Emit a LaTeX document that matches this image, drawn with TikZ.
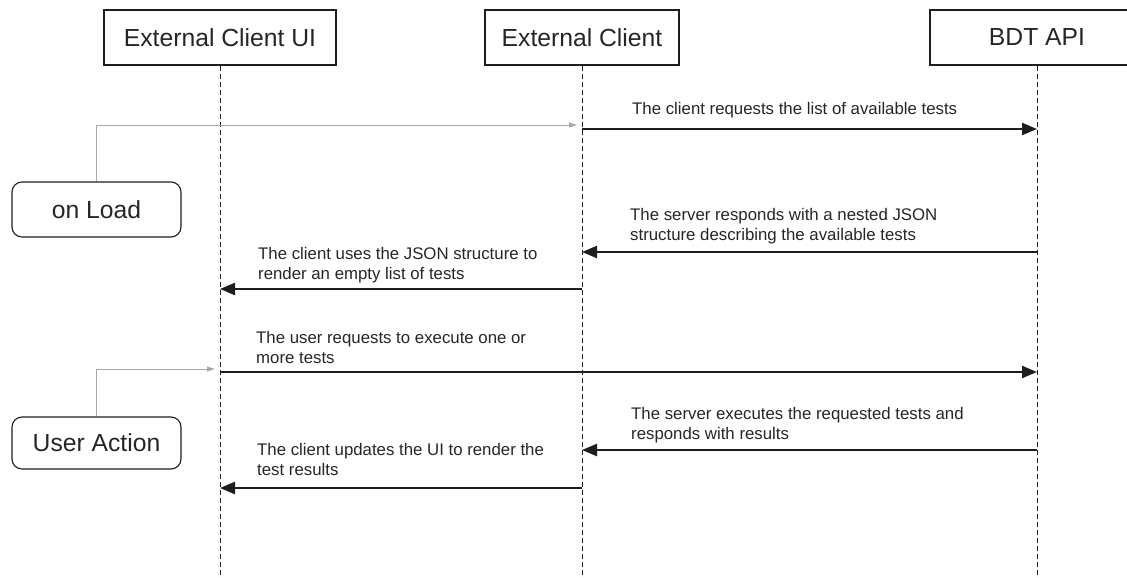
\documentclass[tikz,border=0pt]{standalone}
\usepackage{fontspec}
\setmainfont{Liberation Sans}
\usetikzlibrary{arrows.meta}

\definecolor{inkc}{HTML}{1E1E1E}
\definecolor{textc}{HTML}{262626}
\definecolor{cuec}{HTML}{A8A8A8}

\newcommand{\headfont}{\fontsize{24.7}{29}\selectfont}
\newcommand{\msgfont}{\fontsize{16.8}{20}\selectfont}

\tikzset{
  actor/.style={draw=inkc,line width=1.1pt,minimum height=55pt,inner sep=0pt,font=\headfont,text=textc},
  trigger/.style={actor,rounded corners=10pt,minimum width=169pt},
  lifeline/.style={draw=inkc,line width=0.9pt,dash pattern=on 5pt off 3pt},
  msg/.style={draw=inkc,line width=2.2pt,-{Triangle[length=15pt,width=12pt]}},
  cue/.style={draw=cuec,line width=1pt,-{Triangle[length=8pt,width=5pt]},shorten >=5pt},
  note/.style={anchor=west,align=left,inner sep=0pt,font=\msgfont,text=textc}
}

\begin{document}
\begin{tikzpicture}[x=1pt,y=-1pt]
    \useasboundingbox (0,0) rectangle (1127,578);

    % participants
    \node[actor,minimum width=232pt] (ui) at (220,37.5) {External Client UI};
    \node[actor,minimum width=194pt] (ec) at (582,37.5) {External Client};
    \node[actor,minimum width=214pt] (bdt) at (1037,37.5) {BDT API};

    % lifelines
    \coordinate (uiend) at (ui.south |- 0,578);
    \coordinate (ecend) at (ec.south |- 0,578);
    \coordinate (bdtend) at (bdt.south |- 0,578);
    \draw[lifeline] (ui.south) -- (uiend);
    \draw[lifeline] (ec.south) -- (ecend);
    \draw[lifeline] (bdt.south) -- (bdtend);

    % triggers
    \node[trigger] (onload) at (96.5,209.5) {on Load};
    \node[trigger,minimum height=52pt] (useract) at (96.5,443) {User Action};
    \coordinate (loadin) at (ec |- 0,125);
    \coordinate (actin) at (ui |- 0,369);
    \draw[cue] (onload.north) |- (loadin);
    \draw[cue] (useract.north) |- (actin);

    % messages
    \coordinate (m1a) at (ec |- 0,129);
    \coordinate (m1b) at (bdt |- 0,129);
    \draw[msg] (m1a) -- (m1b);
    \node[note] (t1) at (632,110) {The client requests the list of available tests};

    \coordinate (m2a) at (bdt |- 0,252);
    \coordinate (m2b) at (ec |- 0,252);
    \draw[msg] (m2a) -- (m2b);
    \node[note] (t2) at (630,226.5) {The server responds with a nested JSON\\structure describing the available tests};

    \coordinate (m3a) at (ec |- 0,289);
    \coordinate (m3b) at (ui |- 0,289);
    \draw[msg] (m3a) -- (m3b);
    \node[note] (t3) at (258,265.5) {The client uses the JSON structure to\\render an empty list of tests};

    \coordinate (m4a) at (ui |- 0,372);
    \coordinate (m4b) at (bdt |- 0,372);
    \draw[msg] (m4a) -- (m4b);
    \node[note] (t4) at (256,347) {The user requests to execute one or\\more tests};

    \coordinate (m5a) at (bdt |- 0,450);
    \coordinate (m5b) at (ec |- 0,450);
    \draw[msg] (m5a) -- (m5b);
    \node[note] (t5) at (631,425) {The server executes the requested tests and\\responds with results};

    \coordinate (m6a) at (ec |- 0,488);
    \coordinate (m6b) at (ui |- 0,488);
    \draw[msg] (m6a) -- (m6b);
    \node[note] (t6) at (257,459.5) {The client updates the UI to render the\\test results};
\end{tikzpicture}
\end{document}
